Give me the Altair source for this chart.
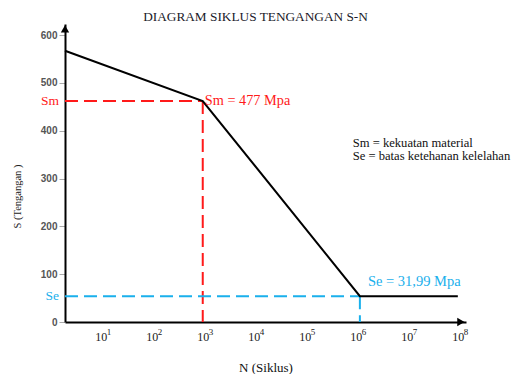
import altair as alt
import pandas as pd

# S-N curve (x = log10 N, y = stress)
curve_logn = [0.3, 3.0, 6.08, 8.0]
curve_s = [567, 462, 54, 54]

# Key points
sm_logn, sm_s = 3.0, 462
se_logn, se_s = 6.08, 54

y_ticks = [0, 100, 200, 300, 400, 500, 600]
x_ticks = [1, 2, 3, 4, 5, 6, 7, 8]

legend_lines = ["Sm = kekuatan material", "Se = batas ketehanan kelelahan"]
legend_s = [375, 347]
legend_logn = [5.94, 5.94]

RED = "#ff1a1a"
CYAN = "#1ab0ec"
SERIF = "Liberation Serif"

X_DOM = [0.3, 8.16]
Y_DOM = [0, 623]

xs = alt.Scale(domain=X_DOM, nice=False, zero=False)
ys = alt.Scale(domain=Y_DOM, nice=False)

curve_df = pd.DataFrame({"n": curve_logn, "s": curve_s})

base = alt.Chart(curve_df).mark_line(color="black", strokeWidth=2, clip=False).encode(
    x=alt.X("n:Q", scale=xs,
            axis=alt.Axis(values=x_ticks, labelExpr="'10'", grid=False, ticks=False,
                          domainColor="black", domainWidth=2,
                          labelFont=SERIF, labelFontSize=12, labelColor="#222",
                          labelPadding=9, title="N (Siklus)", titleFont=SERIF,
                          titleFontSize=13, titleFontWeight="normal", titleColor="#111",
                          titleBaseline="middle", titleY=45)),
    y=alt.Y("s:Q", scale=ys,
            axis=alt.Axis(values=y_ticks, grid=False, tickColor="#aaaaaa", tickSize=6,
                          domainColor="black", domainWidth=2,
                          labelFont="Liberation Sans", labelFontSize=10, labelColor="#555",
                          labelFontWeight="bold",
                          labelPadding=2, title="S (Tengangan )", titleFont=SERIF,
                          titleFontSize=10.5, titleFontWeight="normal", titleColor="#222",
                          titleX=-48, titleY=172, titleAngle=-90, titleAlign="center",
                          titleBaseline="middle")),
)

sup_df = pd.DataFrame({"n": x_ticks, "e": [str(k) for k in x_ticks]})
sups = alt.Chart(sup_df).mark_text(font=SERIF, fontSize=9, color="#222", align="left",
                                   baseline="middle", dx=6).encode(
    x=alt.X("n:Q", scale=xs), y=alt.value(308), text="e:N")

# dashed guides
guides_df = pd.DataFrame({
    "x1": [X_DOM[0], sm_logn, X_DOM[0], se_logn],
    "x2": [sm_logn, sm_logn, se_logn, se_logn],
    "y1": [sm_s, sm_s, se_s, se_s],
    "y2": [sm_s, 0, se_s, 0],
    "c": ["sm", "sm", "se", "se"],
})
guides = alt.Chart(guides_df).mark_rule(strokeWidth=2, strokeDash=[13, 6]).encode(
    x=alt.X("x1:Q", scale=xs), x2="x2:Q",
    y=alt.Y("y1:Q", scale=ys), y2="y2:Q",
    color=alt.Color("c:N", scale=alt.Scale(domain=["sm", "se"], range=[RED, CYAN]), legend=None),
)

# axis labels Sm / Se
lab_df = pd.DataFrame({"s": [sm_s, se_s], "t": ["Sm", "Se"], "c": ["sm", "se"]})
ylabs = alt.Chart(lab_df).mark_text(font=SERIF, fontSize=13.5, align="right",
                                    baseline="middle", dx=-6).encode(
    x=alt.value(0), y=alt.Y("s:Q", scale=ys), text="t:N",
    color=alt.Color("c:N", scale=alt.Scale(domain=["sm", "se"], range=[RED, CYAN]), legend=None),
)

sm_txt = alt.Chart(pd.DataFrame({"n": [sm_logn], "s": [sm_s], "t": ["Sm = 477 Mpa"]})).mark_text(
    font=SERIF, fontSize=14.3, color=RED, align="left", baseline="middle", dx=2, dy=0).encode(
    x=alt.X("n:Q", scale=xs), y=alt.Y("s:Q", scale=ys), text="t:N")

se_txt = alt.Chart(pd.DataFrame({"n": [se_logn], "s": [se_s], "t": ["Se = 31,99 Mpa"]})).mark_text(
    font=SERIF, fontSize=14.5, color=CYAN, align="left", baseline="middle", dx=8, dy=-14).encode(
    x=alt.X("n:Q", scale=xs), y=alt.Y("s:Q", scale=ys), text="t:N")

leg_df = pd.DataFrame({"n": legend_logn, "s": legend_s, "t": legend_lines})
leg = alt.Chart(leg_df).mark_text(font=SERIF, fontSize=12.6, color="#111", align="left",
                                  baseline="middle").encode(
    x=alt.X("n:Q", scale=xs), y=alt.Y("s:Q", scale=ys), text="t:N")

# arrow heads
arr_df = pd.DataFrame({"n": [X_DOM[0], 8.06], "s": [613, 0], "sh": ["triangle-up", "triangle-right"]})
arrows = alt.Chart(arr_df).mark_point(filled=True, color="black", size=70, opacity=1).encode(
    x=alt.X("n:Q", scale=xs), y=alt.Y("s:Q", scale=ys),
    shape=alt.Shape("sh:N", scale=None))

chart = alt.layer(guides, base, sups, ylabs, sm_txt, se_txt, leg, arrows).properties(
    width=401, height=298,
    autosize=alt.AutoSizeParams(type="none"),
    padding={"left": 57, "top": 16, "right": 50, "bottom": 52},
    title=alt.TitleParams("DIAGRAM SIKLUS TENGANGAN S-N", font=SERIF, fontSize=13.3,
                          fontWeight="normal", color="#1a1a2a", anchor="middle",
                          offset=1, dx=-10),
).configure_view(stroke=None)

chart.save("out.html", embed_options={"renderer": "svg", "actions": False})
